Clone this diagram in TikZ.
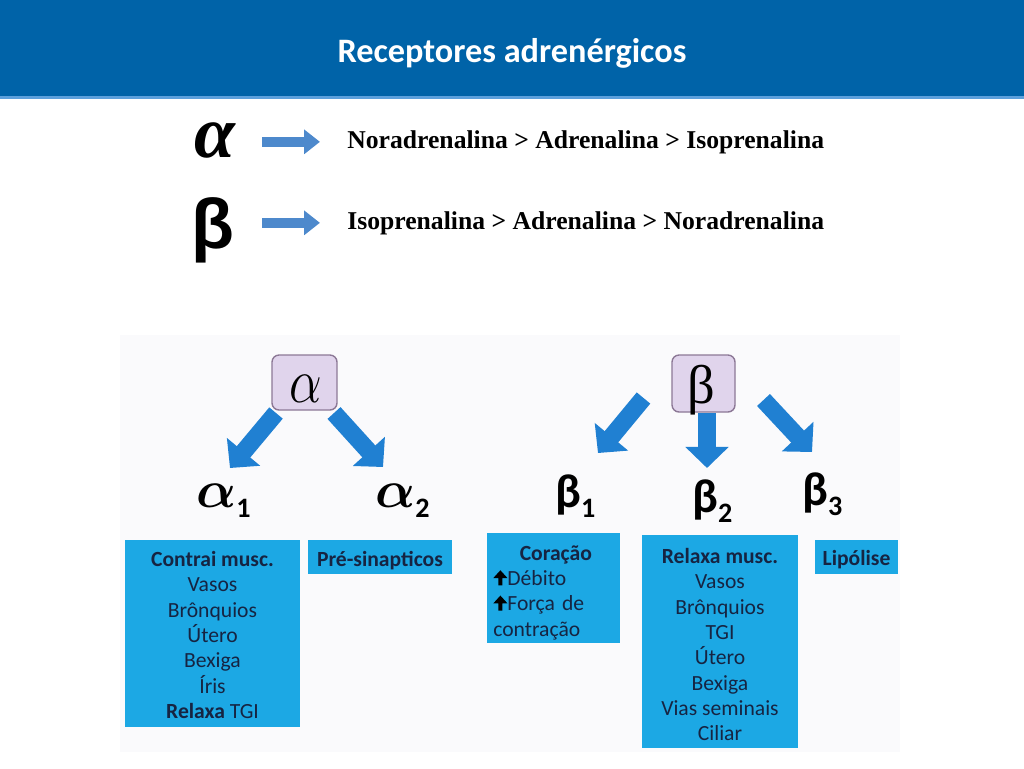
\RequirePackage{fix-cm}
\documentclass[tikz,border=0pt]{standalone}
\usepackage{fontspec}
\setmainfont{Carlito}
\newfontfamily\serifgr{Liberation Serif}
\newfontfamily\sansgr{Liberation Sans}
\usetikzlibrary{arrows.meta, positioning, calc}

\definecolor{headblue}{RGB}{0,99,168}
\definecolor{lineblue}{RGB}{92,160,220}
\definecolor{flatblue}{RGB}{77,137,204}
\definecolor{fatblue}{RGB}{32,128,210}
\definecolor{boxblue}{RGB}{28,168,228}
\definecolor{navytext}{RGB}{22,36,66}
\definecolor{lilac}{RGB}{224,212,236}
\definecolor{lilacedge}{RGB}{140,120,150}
\definecolor{photobg}{RGB}{250,250,252}

\newcommand{\grsub}[2]{#1{\fontsize{16}{16}\selectfont\bfseries\raisebox{-6pt}{#2}}}
\newcommand{\bfalpha}{{\boldmath$\alpha$}}
\newcommand{\upar}{\tikz[baseline=0pt, x=1pt, y=1pt]\fill[black] (2.8,0) -- (2.8,4.2) -- (0,4.2) -- (4,8.6) -- (8,4.2) -- (5.2,4.2) -- (5.2,0) -- cycle;}

\begin{document}
\begin{tikzpicture}[x=0.02cm, y=-0.02cm, inner sep=0pt,
  infobox/.style={fill=boxblue},
  boxtxt/.style={text=navytext, font=\fontsize{12.3}{14.4}\selectfont, align=center},
  grbox/.style={fill=lilac, draw=lilacedge, line width=0.8pt, rounded corners=4pt},
  grlabel/.style={anchor=base west},
  fatarrow/.style={draw=fatblue, line width=10pt, -{Triangle[length=12pt, width=24pt]}},
  flatarrow/.style={draw=flatblue, line width=5.7pt, -{Triangle[length=9pt, width=13.5pt]}}]
  \useasboundingbox (0,0) rectangle (1024,768);

  % title bar
  \fill[headblue] (0,0) rectangle (1024,96);
  \fill[lineblue] (0,96) rectangle (1024,98.5);
  \node[anchor=base, text=white, font=\bfseries\fontsize{19.5}{22}\selectfont] (title) at (512,62) {Receptores adrenérgicos};

  % order of potency
  \node[anchor=base, font=\serifgr\bfseries\itshape\fontsize{42}{42}\selectfont] (ga) at (215,157) {α};
  \node[anchor=base, font=\sansgr\bfseries\fontsize{40}{40}\selectfont] (gb) at (213,248) {β};
  \node[anchor=base west, font=\serifgr\bfseries\fontsize{14.6}{17}\selectfont] (rowa) at (347,148) {Noradrenalina > Adrenalina > Isoprenalina};
  \node[anchor=base west, font=\serifgr\bfseries\fontsize{14.6}{17}\selectfont] (rowb) at (347,229) {Isoprenalina > Adrenalina > Noradrenalina};
  \draw[flatarrow, shorten <=15pt, shorten >=15.4pt] (ga.east |- rowa.west) -- (rowa.west);
  \draw[flatarrow, shorten <=15pt, shorten >=15.4pt] (ga.east |- rowb.west) -- (rowb.west);

  % pasted scheme
  \fill[photobg] (120,335) rectangle (900,752);

  \node[grbox, minimum width=1.3cm, minimum height=1.1cm] (abox) at (304.5,382.5) {};
  \node[grbox, minimum width=1.26cm, minimum height=1.14cm] (bbox) at (703.5,383.5) {};

  \node[grlabel, font=\fontsize{30}{30}\selectfont] (a1) at (196,507) {\grsub{\bfalpha}{1}};
  \node[grlabel, font=\fontsize{30}{30}\selectfont] (a2) at (375,507) {\grsub{\bfalpha}{2}};
  \node[grlabel, font=\bfseries\fontsize{27}{27}\selectfont] (b1) at (555,507) {\grsub{β}{1}};
  \node[grlabel, font=\bfseries\fontsize{27}{27}\selectfont] (b2) at (692,512) {\grsub{β}{2}};
  \node[grlabel, font=\bfseries\fontsize{27}{27}\selectfont] (b3) at (802,505) {\grsub{β}{3}};

  \draw[fatarrow] ([shift={(-28.5,30.5)}]abox.center) -- ([shift={(34,-39)}]a1.base west);
  \draw[fatarrow] ([shift={(29.5,30.5)}]abox.center) -- ([shift={(8,-40)}]a2.base west);
  \draw[fatarrow] ([shift={(-60,14.5)}]bbox.center) -- ([shift={(43,-54)}]b1.base west);
  \draw[fatarrow] ([shift={(3.5,29.5)}]bbox.center) -- ([shift={(15,-44)}]b2.base west);
  \draw[fatarrow] ([shift={(60,16.5)}]bbox.center) -- ([shift={(10,-53)}]b3.base west);

  \node[anchor=base, font=\fontsize{36}{36}\selectfont] (alpha) at (306,402) {\scalebox{0.82}[1]{$\alpha$}};
  \node[anchor=base, font=\serifgr\fontsize{31}{31}\selectfont] (beta) at (701,403) {β};

  % effects
  \node[infobox, minimum width=3.5cm, minimum height=3.74cm] (contrai) at (212.5,633.5) {};
  \node[infobox, minimum width=2.88cm, minimum height=0.68cm] (presin) at (380,557) {};
  \node[infobox, minimum width=2.66cm, minimum height=2.2cm] (coracao) at (553.5,588) {};
  \node[infobox, minimum width=3.12cm, minimum height=4.26cm] (relaxa) at (720,641.5) {};
  \node[infobox, minimum width=1.66cm, minimum height=0.68cm] (lipo) at (856.5,557) {};

  \node[boxtxt, anchor=north] (contraitxt) at (212.5,551) {\textbf{Contrai musc.}\\Vasos\\Brônquios\\Útero\\Bexiga\\Íris\\\textbf{Relaxa} TGI};
  \node[boxtxt, anchor=north] (presintxt) at (380,551) {\textbf{Pré-sinapticos}};
  \node[boxtxt, anchor=north west, align=left, text width=2.5cm] (coracaotxt) at (493,545) {\hfill\textbf{Coração}\hfill\null\\\upar Débito\\\upar Força de\\contração};
  \node[boxtxt, anchor=north] (relaxatxt) at (720,548) {\textbf{Relaxa musc.}\\Vasos\\Brônquios\\TGI\\Útero\\Bexiga\\Vias seminais\\Ciliar};
  \node[boxtxt, anchor=north] (lipotxt) at (856.5,550) {\textbf{Lipólise}};
\end{tikzpicture}
\end{document}
